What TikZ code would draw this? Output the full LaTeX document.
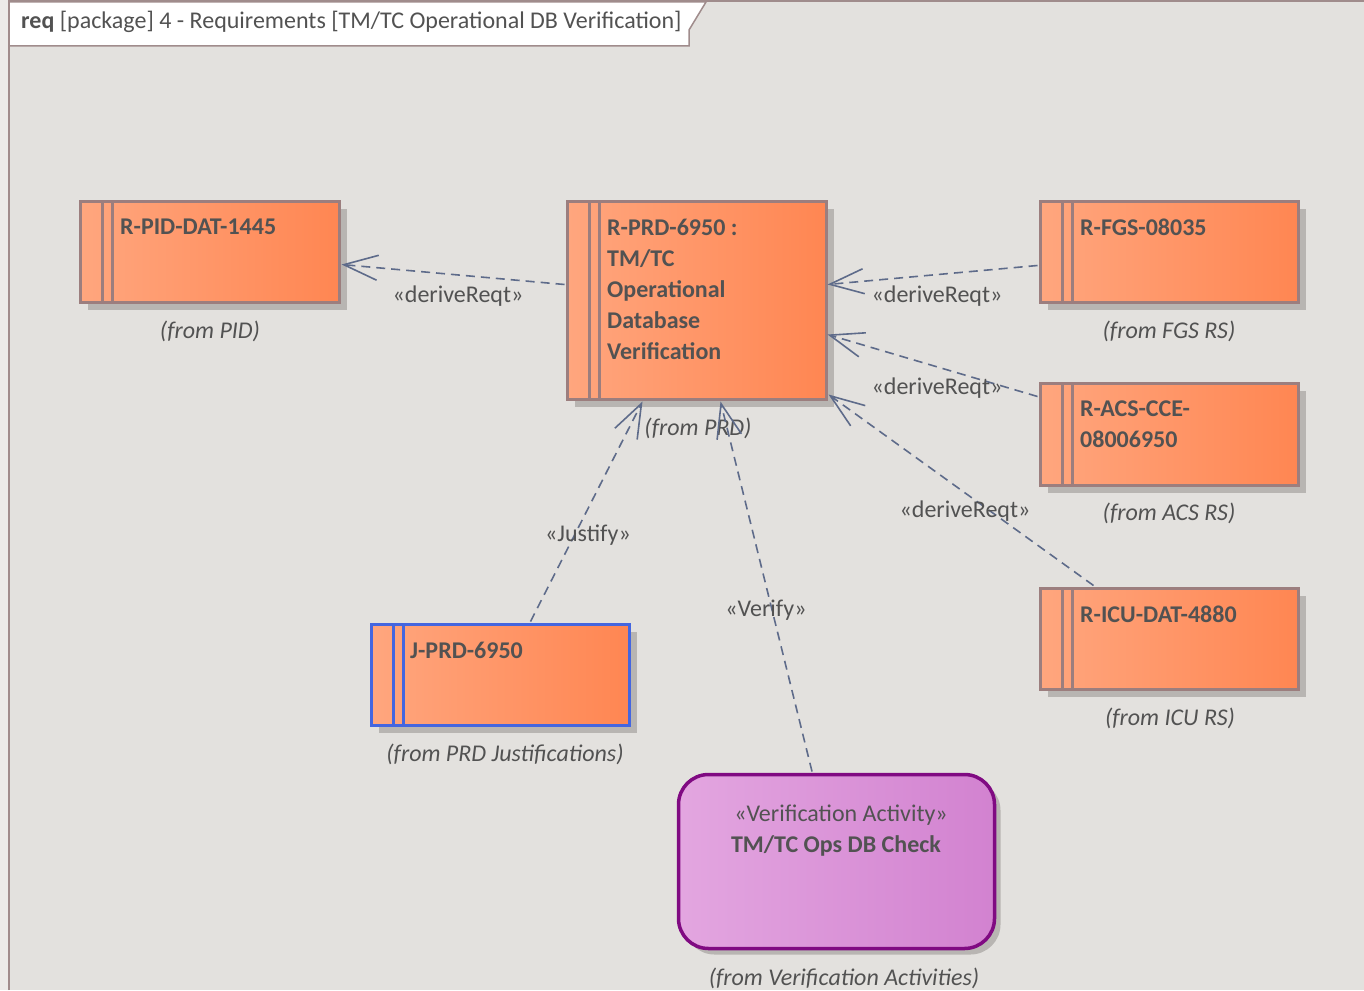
\documentclass[tikz,border=0pt]{standalone}
\usepackage{fontspec}
\setmainfont{Carlito}
\usetikzlibrary{arrows.meta,shadows}
\definecolor{bg}{HTML}{E3E1DE}
\definecolor{outer}{HTML}{ECEBE9}
\definecolor{framec}{HTML}{A08C8C}
\definecolor{txt}{HTML}{525252}
\definecolor{reqborder}{HTML}{9C7E7E}
\definecolor{reqL}{HTML}{FFA67E}
\definecolor{reqR}{HTML}{FF8652}
\definecolor{shadowc}{HTML}{B8B5B2}
\definecolor{conn}{HTML}{5E6B8A}
\definecolor{jborder}{HTML}{4466E0}
\definecolor{vaborder}{HTML}{800A82}
\definecolor{vaL}{HTML}{E3A6E0}
\definecolor{vaR}{HTML}{D282D0}
\tikzset{
  reqbox/.style={rectangle, draw=reqborder, line width=3pt, left color=reqL, right color=reqR,
    anchor=north west, inner sep=0pt, outer sep=0pt,
    drop shadow={shadow xshift=7pt, shadow yshift=-7pt, fill=shadowc, opacity=1}},
  bar/.style={draw=reqborder, line width=3pt},
  reqtext/.style={anchor=north west, align=left, inner sep=0pt, text=txt,
    font=\fontsize{24}{31}\selectfont\bfseries},
  fromtext/.style={text=txt, inner sep=0pt, font=\fontsize{24}{28}\selectfont\itshape},
  stereo/.style={text=txt, inner sep=1pt, font=\fontsize{24}{28}\selectfont},
  dep/.style={draw=conn, line width=1.6pt, dash pattern=on 9pt off 6pt,
    -{Straight Barb[length=34pt, width=25pt, line width=1.6pt]}},
}
\begin{document}
\begin{tikzpicture}[x=1pt,y=-1pt]
\useasboundingbox (0,0) rectangle (1364,990);
\fill[outer] (0,0) rectangle (1364,990);
\fill[bg] (9,1) rectangle (1364,990);
\draw[framec, line width=2pt] (9,990) -- (9,1) -- (1364,1);
% title tab
\draw[framec, fill=white, line width=1.5pt] (9,2) -- (706,2) -- (689,30) -- (689,46) -- (9,46) -- cycle;
\node[anchor=west, inner sep=0pt, text=txt, font=\fontsize{24}{28}\selectfont] (title) at (21,22)
  {\textbf{req} [package] 4 - Requirements [TM/TC Operational DB Verification]};

% requirement boxes
\node[reqbox, minimum width=259pt, minimum height=101pt] (pid) at (80.5,201.5) {};
\node[reqbox, minimum width=259pt, minimum height=198pt] (prd) at (567.5,201.5) {};
\node[reqbox, minimum width=258pt, minimum height=101pt] (fgs) at (1040.5,201.5) {};
\node[reqbox, minimum width=258pt, minimum height=102pt] (acs) at (1040.5,383.5) {};
\node[reqbox, minimum width=258pt, minimum height=101pt] (icu) at (1040.5,588.5) {};
\node[reqbox, draw=jborder, minimum width=258pt, minimum height=101pt] (jprd) at (371.5,624.5) {};

\foreach \n/\c in {pid/reqborder,prd/reqborder,fgs/reqborder,acs/reqborder,icu/reqborder,jprd/jborder}{
  \draw[bar, draw=\c] ([xshift=22pt]\n.north west) -- ([xshift=22pt]\n.south west);
  \draw[bar, draw=\c] ([xshift=32pt]\n.north west) -- ([xshift=32pt]\n.south west);
}

\node[reqtext] (pidt) at (120,219) {R-PID-DAT-1445};
\node[reqtext] (prdt) at (607,219) {R-PRD-6950 :\\TM/TC\\Operational\\Database\\Verification};
\node[reqtext] (fgst) at (1080,219) {R-FGS-08035};
\node[reqtext] (acst) at (1080,401) {R-ACS-CCE-\\08006950};
\node[reqtext] (icut) at (1080,606) {R-ICU-DAT-4880};
\node[reqtext] (jprdt) at (410,642) {J-PRD-6950};

% verification activity
\node[rectangle, rounded corners=30pt, draw=vaborder, line width=3.5pt, left color=vaL, right color=vaR,
  anchor=north west, minimum width=316pt, minimum height=174pt, inner sep=0pt, outer sep=0pt,
  drop shadow={shadow xshift=6pt, shadow yshift=-6pt, fill=shadowc, opacity=1}] (va) at (678.5,774.5) {};
\node[stereo, inner sep=0pt] (vast) at (841,815) {«Verification Activity»};
\node[text=txt, inner sep=0pt, font=\fontsize{24}{28}\selectfont\bfseries] (vat) at (836,846) {TM/TC Ops DB Check};

% from labels
\node[fromtext] (pidf) at (210,331) {(from PID)};
\node[fromtext] (prdf) at (698,428) {(from PRD)};
\node[fromtext] (fgsf) at (1169,331) {(from FGS RS)};
\node[fromtext] (acsf) at (1169,513) {(from ACS RS)};
\node[fromtext] (icuf) at (1170,718) {(from ICU RS)};
\node[fromtext] (jprdf) at (505,754) {(from PRD Justifications)};
\node[fromtext] (vaf) at (844,978) {(from Verification Activities)};

% connectors
\draw[dep] ([yshift=16pt, xshift=-3pt]prd.west) -- ([yshift=-12.5pt, xshift=2pt]pid.east);
\draw[dep] ([yshift=-13.5pt, xshift=-3pt]fgs.west) -- ([yshift=16pt, xshift=1pt]prd.east);
\draw[dep] ([yshift=38pt, xshift=-3pt]acs.west) -- ([yshift=-34pt, xshift=1pt]prd.east);
\draw[dep] ([xshift=-76pt, yshift=3pt]icu.north) -- ([yshift=5pt, xshift=2pt]prd.south east);
\draw[dep] ([xshift=30pt, yshift=3pt]jprd.north) -- ([xshift=-54.5pt, yshift=-2pt]prd.south);
\draw[dep] ([xshift=-24.5pt, yshift=3pt]va.north) -- ([xshift=23.5pt, yshift=-2pt]prd.south);

% connector labels
\node[stereo] (l1) at (458,296) {«deriveReqt»};
\node[stereo] (l2) at (937,296) {«deriveReqt»};
\node[stereo] (l3) at (937,388) {«deriveReqt»};
\node[stereo] (l4) at (965,511) {«deriveReqt»};
\node[stereo] (l5) at (588,535) {«Justify»};
\node[stereo] (l6) at (766,610) {«Verify»};
\end{tikzpicture}
\end{document}
